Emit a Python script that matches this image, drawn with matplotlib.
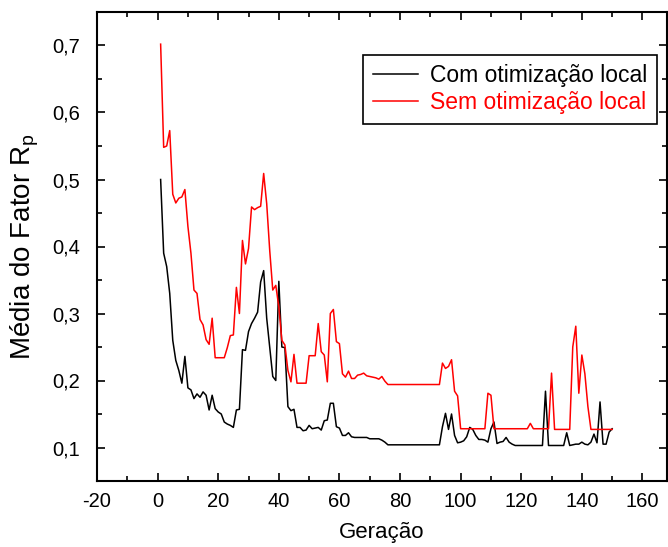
import numpy as np
import matplotlib
matplotlib.use('Agg')
import matplotlib.pyplot as plt
from matplotlib.ticker import MultipleLocator, FuncFormatter

plt.rcParams['font.family'] = ['Liberation Sans', 'DejaVu Sans']
plt.rcParams['mathtext.fontset'] = 'custom'
plt.rcParams['mathtext.rm'] = 'Liberation Sans'
plt.rcParams['axes.unicode_minus'] = False

geracao = np.arange(1, 151)

com_otimizacao = [
    0.500, 0.390, 0.370, 0.330, 0.260, 0.230, 0.215, 0.196, 0.236, 0.189,
    0.186, 0.173, 0.180, 0.175, 0.183, 0.178, 0.156, 0.178, 0.158, 0.153,
    0.150, 0.138, 0.135, 0.133, 0.130, 0.156, 0.157, 0.246, 0.245, 0.273,
    0.285, 0.293, 0.302, 0.347, 0.364, 0.293, 0.250, 0.206, 0.200, 0.348,
    0.250, 0.249, 0.161, 0.155, 0.157, 0.130, 0.130, 0.125, 0.126, 0.133,
    0.128, 0.129, 0.130, 0.126, 0.140, 0.141, 0.166, 0.166, 0.131, 0.129,
    0.118, 0.118, 0.122, 0.116, 0.115, 0.115, 0.115, 0.115, 0.115, 0.113,
    0.113, 0.113, 0.113, 0.111, 0.108, 0.104, 0.104, 0.104, 0.104, 0.104,
    0.104, 0.104, 0.104, 0.104, 0.104, 0.104, 0.104, 0.104, 0.104, 0.104,
    0.104, 0.104, 0.104, 0.131, 0.151, 0.127, 0.150, 0.118, 0.107, 0.108,
    0.110, 0.116, 0.130, 0.127, 0.118, 0.112, 0.112, 0.111, 0.108, 0.128,
    0.138, 0.106, 0.108, 0.109, 0.115, 0.108, 0.105, 0.103, 0.103, 0.103,
    0.103, 0.103, 0.103, 0.103, 0.103, 0.103, 0.103, 0.184, 0.103, 0.103,
    0.103, 0.103, 0.103, 0.103, 0.122, 0.103, 0.104, 0.105, 0.105, 0.108,
    0.105, 0.104, 0.108, 0.120, 0.107, 0.168, 0.105, 0.105, 0.123, 0.128,
]

sem_otimizacao = [
    0.702, 0.548, 0.550, 0.573, 0.478, 0.465, 0.472, 0.474, 0.485, 0.430,
    0.390, 0.335, 0.330, 0.291, 0.283, 0.261, 0.254, 0.293, 0.234, 0.234,
    0.234, 0.234, 0.249, 0.267, 0.268, 0.339, 0.300, 0.409, 0.374, 0.397,
    0.459, 0.455, 0.458, 0.460, 0.509, 0.464, 0.394, 0.335, 0.342, 0.310,
    0.260, 0.253, 0.215, 0.198, 0.239, 0.196, 0.196, 0.196, 0.196, 0.237,
    0.237, 0.237, 0.285, 0.243, 0.238, 0.198, 0.300, 0.306, 0.258, 0.255,
    0.210, 0.205, 0.214, 0.203, 0.203, 0.208, 0.209, 0.211, 0.207, 0.206,
    0.205, 0.204, 0.202, 0.206, 0.199, 0.194, 0.194, 0.194, 0.194, 0.194,
    0.194, 0.194, 0.194, 0.194, 0.194, 0.194, 0.194, 0.194, 0.194, 0.194,
    0.194, 0.194, 0.194, 0.226, 0.218, 0.221, 0.231, 0.184, 0.177, 0.128,
    0.128, 0.128, 0.128, 0.128, 0.128, 0.128, 0.128, 0.128, 0.181, 0.178,
    0.128, 0.128, 0.128, 0.128, 0.128, 0.128, 0.128, 0.128, 0.128, 0.128,
    0.128, 0.128, 0.136, 0.128, 0.128, 0.128, 0.128, 0.128, 0.128, 0.211,
    0.127, 0.127, 0.127, 0.127, 0.127, 0.127, 0.250, 0.281, 0.181, 0.238,
    0.210, 0.161, 0.127, 0.127, 0.127, 0.127, 0.127, 0.127, 0.127, 0.127,
]

fig = plt.figure(figsize=(6.68, 5.47), dpi=100)
ax = fig.add_axes([97 / 668, 66 / 547, 570 / 668, 469 / 547])

ax.plot(geracao, com_otimizacao, color='black', lw=1.1, label='Com otimização local')
ax.plot(geracao, sem_otimizacao, color='red', lw=1.1, label='Sem otimização local')

ax.set_xlim(-20, 168.1)
ax.set_ylim(0.05, 0.75)
ax.xaxis.set_major_locator(MultipleLocator(20))
ax.xaxis.set_minor_locator(MultipleLocator(10))
ax.yaxis.set_major_locator(MultipleLocator(0.1))
ax.yaxis.set_minor_locator(MultipleLocator(0.05))
ax.yaxis.set_major_formatter(FuncFormatter(lambda v, p: ('%.1f' % v).replace('.', ',')))

ax.tick_params(which='both', direction='in', top=True, right=True, width=1.2, labelsize=14.5)
ax.tick_params(which='major', length=6)
ax.tick_params(which='minor', length=3.5)
ax.tick_params(axis='y', which='major', pad=12)
ax.tick_params(axis='x', which='major', pad=8)
for s in ax.spines.values():
    s.set_linewidth(1.5)

ax.set_xlabel('Geração', fontsize=16, labelpad=8)
ax.set_ylabel('Média do Fator R$_\\mathregular{p}$', fontsize=20, labelpad=8)

leg = ax.legend(loc='upper right', bbox_to_anchor=(0.982, 0.908), borderaxespad=0,
                fontsize=16.5, frameon=True, fancybox=False, edgecolor='black', framealpha=1,
                handlelength=2.0, handletextpad=0.52, borderpad=0.4, labelspacing=0.18)
leg.get_frame().set_linewidth(1.2)
for txt, c in zip(leg.get_texts(), ['black', 'red']):
    txt.set_color(c)

fig.savefig('out.png', dpi=100)
